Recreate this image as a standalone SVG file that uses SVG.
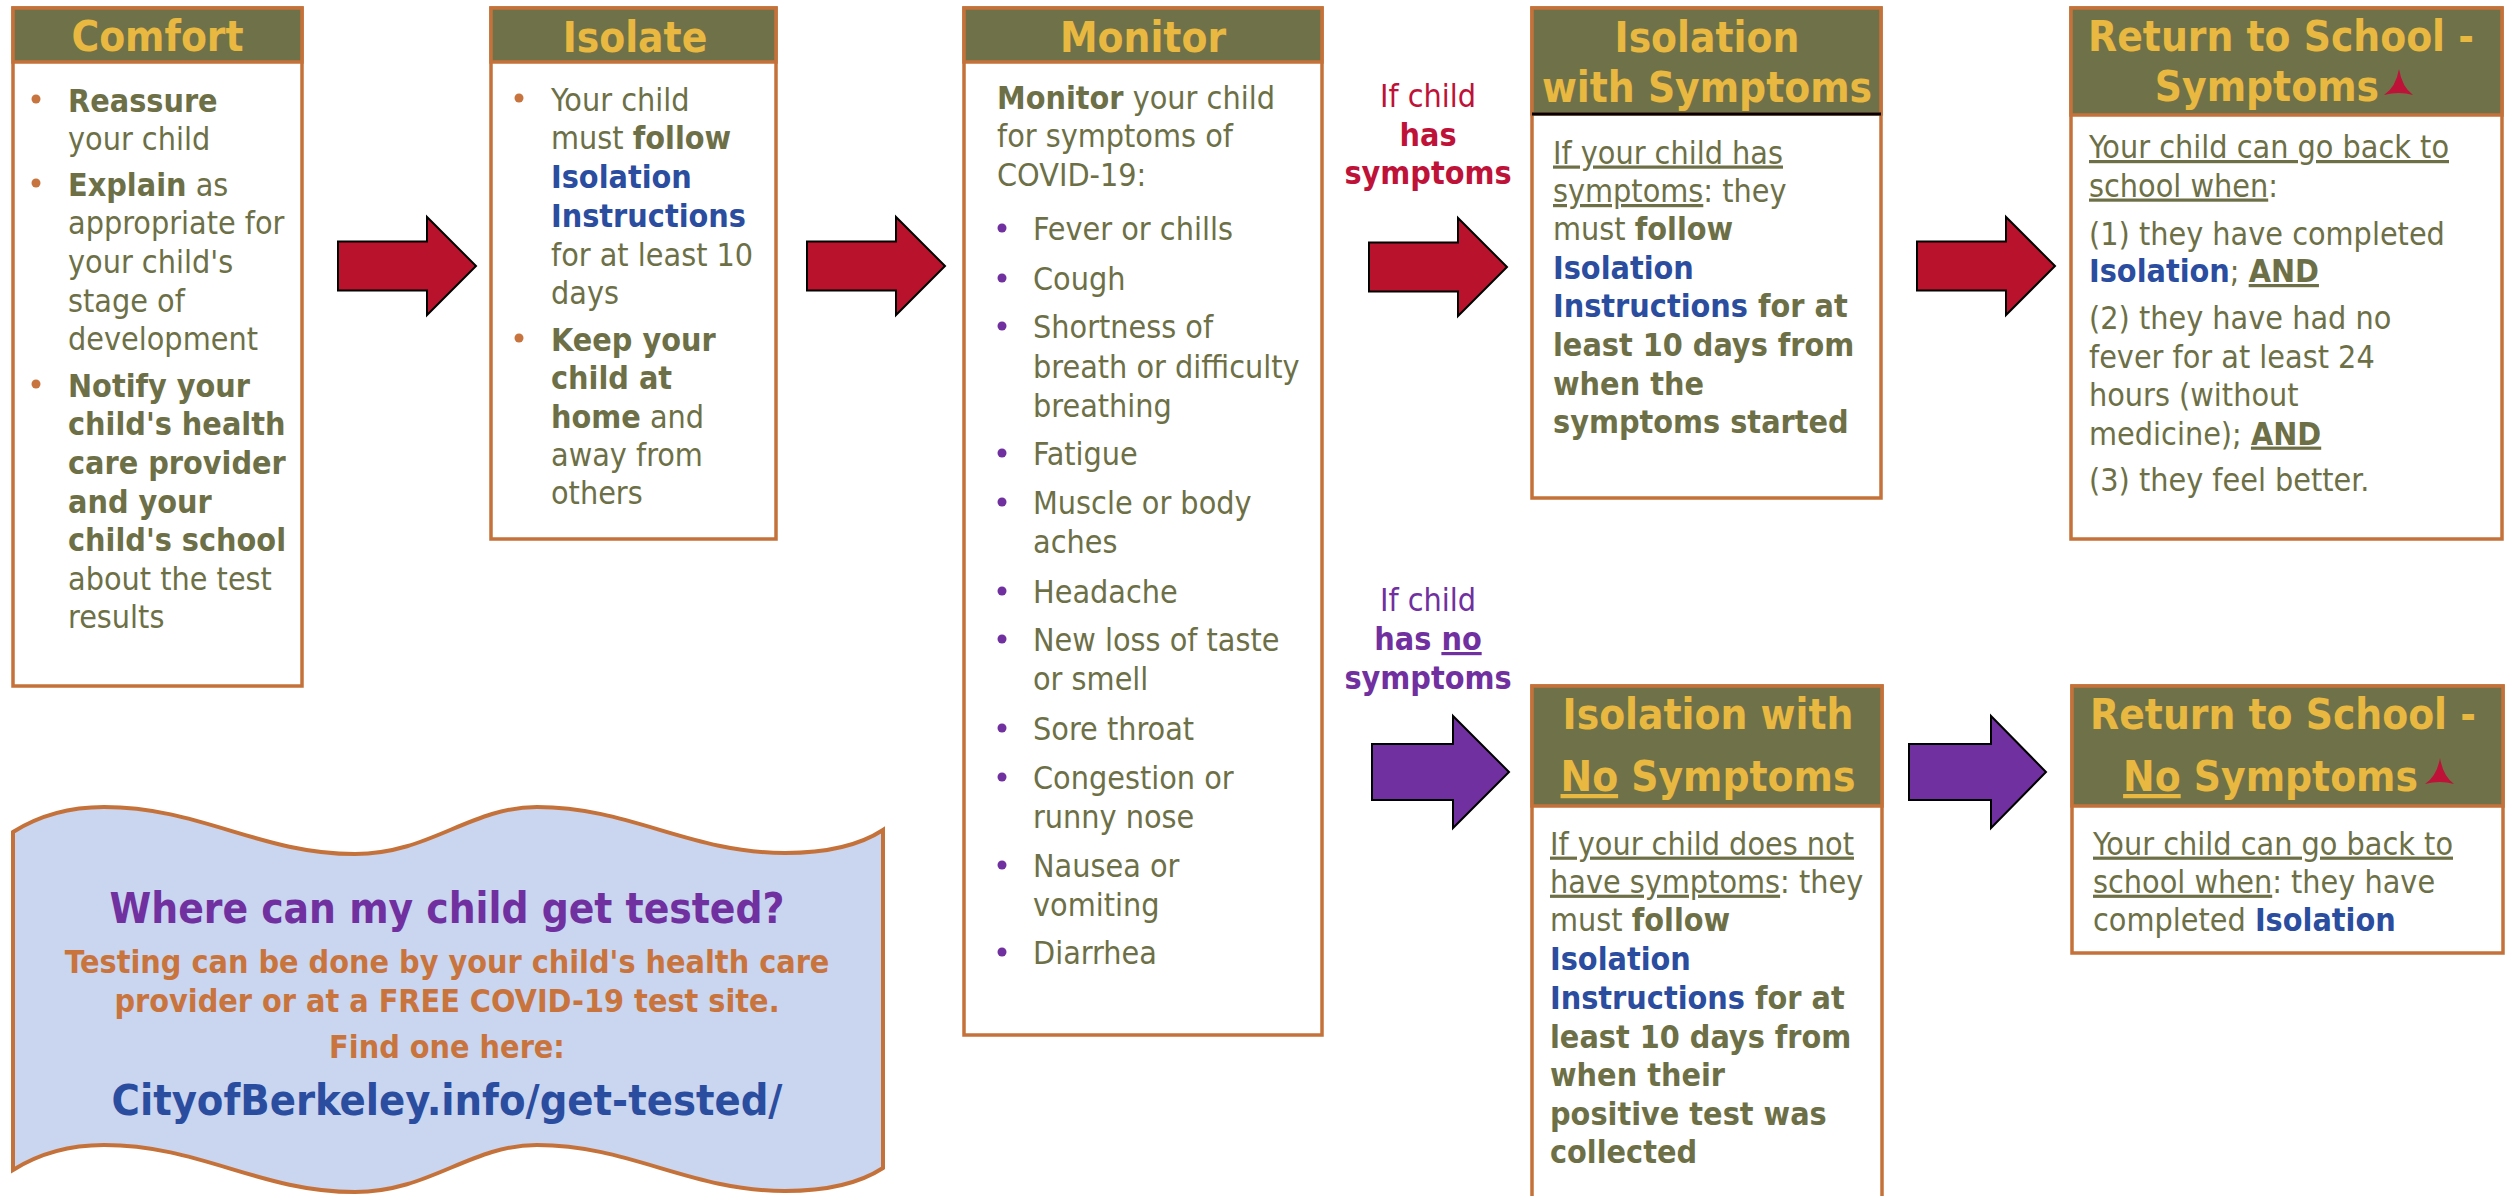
<svg xmlns="http://www.w3.org/2000/svg" width="2508" height="1196" viewBox="0 0 2508 1196">
<defs>
<style>
text{font-family:"DejaVu Sans Condensed","DejaVu Sans",sans-serif;font-stretch:condensed}
.hd{font-size:42px;font-weight:bold;fill:#E9B840;text-anchor:middle}
.t{font-size:32px;fill:#6D7046}
.c{text-anchor:middle}
.b{font-weight:bold}
.bl{font-weight:bold;fill:#2B4DA0}
.u{text-decoration:underline}
.box{fill:#fff;stroke:#C5723A;stroke-width:3.5}
.hdr{fill:#6F7249;stroke:#C5723A;stroke-width:3.5}
.dot{fill:#C8743E}
.pdot{fill:#7030A0}
.ar{fill:#B9122C;stroke:#000;stroke-width:2}
.ap{fill:#7030A0;stroke:#000;stroke-width:2}
.red{fill:#BE1238}
.pur{fill:#7030A0}
.wv{font-weight:bold;text-anchor:middle}
</style>
<path id="star" d="M0,-19 Q3,-1 14,7 Q0,3 -15,7 Q-3,-1 0,-19Z" fill="#BE1238"/>
</defs>
<rect width="2508" height="1196" fill="#fff"/>

<g id="comfort">
<rect class="box" x="13" y="8" width="289" height="678"/>
<rect class="hdr" x="13" y="8" width="289" height="54"/>
<text class="hd" x="157.5" y="51">Comfort</text>
<circle class="dot" cx="36" cy="99" r="4.5"/>
<circle class="dot" cx="36" cy="183" r="4.5"/>
<circle class="dot" cx="36" cy="384" r="4.5"/>
<text class="t" x="68" y="112"><tspan class="b">Reassure</tspan></text>
<text class="t" x="68" y="150">your child</text>
<text class="t" x="68" y="196"><tspan class="b">Explain</tspan> as</text>
<text class="t" x="68" y="234">appropriate for</text>
<text class="t" x="68" y="273">your child's</text>
<text class="t" x="68" y="312">stage of</text>
<text class="t" x="68" y="350">development</text>
<text class="t b" x="68" y="397">Notify your</text>
<text class="t b" x="68" y="435">child's health</text>
<text class="t b" x="68" y="474">care provider</text>
<text class="t b" x="68" y="513">and your</text>
<text class="t b" x="68" y="551">child's school</text>
<text class="t" x="68" y="590">about the test</text>
<text class="t" x="68" y="628">results</text>
</g>

<g id="isolate">
<rect class="box" x="491" y="8" width="285" height="531"/>
<rect class="hdr" x="491" y="8" width="285" height="54"/>
<text class="hd" x="635" y="52">Isolate</text>
<circle class="dot" cx="519" cy="98" r="4.5"/>
<circle class="dot" cx="519" cy="338" r="4.5"/>
<text class="t" x="551" y="111">Your child</text>
<text class="t" x="551" y="149">must <tspan class="b">follow</tspan></text>
<text class="t bl" x="551" y="188">Isolation</text>
<text class="t bl" x="551" y="227">Instructions</text>
<text class="t" x="551" y="266">for at least 10</text>
<text class="t" x="551" y="304">days</text>
<text class="t b" x="551" y="351">Keep your</text>
<text class="t b" x="551" y="389">child at</text>
<text class="t" x="551" y="428"><tspan class="b">home</tspan> and</text>
<text class="t" x="551" y="466">away from</text>
<text class="t" x="551" y="504">others</text>
</g>

<g id="monitor">
<rect class="box" x="964" y="8" width="358" height="1027"/>
<rect class="hdr" x="964" y="8" width="358" height="54"/>
<text class="hd" x="1143" y="52">Monitor</text>
<text class="t" x="997" y="108.5"><tspan class="b">Monitor</tspan> your child</text>
<text class="t" x="997" y="147">for symptoms of</text>
<text class="t" x="997" y="185.5">COVID-19:</text>
<circle class="pdot" cx="1002" cy="228" r="4.5"/>
<circle class="pdot" cx="1002" cy="278" r="4.5"/>
<circle class="pdot" cx="1002" cy="326" r="4.5"/>
<circle class="pdot" cx="1002" cy="453" r="4.5"/>
<circle class="pdot" cx="1002" cy="502" r="4.5"/>
<circle class="pdot" cx="1002" cy="591" r="4.5"/>
<circle class="pdot" cx="1002" cy="639" r="4.5"/>
<circle class="pdot" cx="1002" cy="728" r="4.5"/>
<circle class="pdot" cx="1002" cy="777" r="4.5"/>
<circle class="pdot" cx="1002" cy="865" r="4.5"/>
<circle class="pdot" cx="1002" cy="952" r="4.5"/>
<text class="t" x="1033" y="240">Fever or chills</text>
<text class="t" x="1033" y="290">Cough</text>
<text class="t" x="1033" y="338">Shortness of</text>
<text class="t" x="1033" y="378">breath or difficulty</text>
<text class="t" x="1033" y="417">breathing</text>
<text class="t" x="1033" y="465">Fatigue</text>
<text class="t" x="1033" y="514">Muscle or body</text>
<text class="t" x="1033" y="553">aches</text>
<text class="t" x="1033" y="603">Headache</text>
<text class="t" x="1033" y="651">New loss of taste</text>
<text class="t" x="1033" y="690">or smell</text>
<text class="t" x="1033" y="740">Sore throat</text>
<text class="t" x="1033" y="789">Congestion or</text>
<text class="t" x="1033" y="828">runny nose</text>
<text class="t" x="1033" y="877">Nausea or</text>
<text class="t" x="1033" y="916">vomiting</text>
<text class="t" x="1033" y="964">Diarrhea</text>
</g>

<g id="isolation-symptoms">
<rect class="box" x="1532" y="8" width="349" height="490"/>
<rect class="hdr" x="1532" y="8" width="349" height="106"/>
<line x1="1532" y1="114" x2="1881" y2="114" stroke="#000" stroke-width="3"/>
<text class="hd" x="1707" y="52">Isolation</text>
<text class="hd" x="1707" y="102">with Symptoms</text>
<text class="t" x="1553" y="163.5"><tspan class="u">If your child has</tspan></text>
<text class="t" x="1553" y="202"><tspan class="u">symptoms</tspan>: they</text>
<text class="t" x="1553" y="240">must <tspan class="b">follow</tspan></text>
<text class="t bl" x="1553" y="278.5">Isolation</text>
<text class="t b" x="1553" y="317"><tspan class="bl">Instructions</tspan> for at</text>
<text class="t b" x="1553" y="356">least 10 days from</text>
<text class="t b" x="1553" y="395">when the</text>
<text class="t b" x="1553" y="433">symptoms started</text>
</g>

<g id="return-symptoms">
<rect class="box" x="2071" y="8" width="431" height="531"/>
<rect class="hdr" x="2071" y="8" width="431" height="107"/>
<text class="hd" x="2281" y="51">Return to School -</text>
<text class="hd" x="2379" y="101" style="text-anchor:end">Symptoms</text>
<use href="#star" x="2399" y="88"/>
<text class="t" x="2089" y="158"><tspan class="u">Your child can go back to</tspan></text>
<text class="t" x="2089" y="196.5"><tspan class="u">school when</tspan>:</text>
<text class="t" x="2089" y="244.6">(1) they have completed</text>
<text class="t" x="2089" y="282"><tspan class="bl">Isolation</tspan>; <tspan class="b u">AND</tspan></text>
<text class="t" x="2089" y="328.6">(2) they have had no</text>
<text class="t" x="2089" y="368">fever for at least 24</text>
<text class="t" x="2089" y="406">hours (without</text>
<text class="t" x="2089" y="444.6">medicine); <tspan class="b u">AND</tspan></text>
<text class="t" x="2089" y="491">(3) they feel better.</text>
</g>

<g id="isolation-no-symptoms">
<rect class="box" x="1532" y="686" width="350" height="520"/>
<rect class="hdr" x="1532" y="686" width="350" height="120"/>
<text class="hd" x="1708" y="729">Isolation with</text>
<text class="hd" x="1708" y="791"><tspan class="u">No</tspan> Symptoms</text>
<text class="t" x="1550" y="854.6"><tspan class="u">If your child does not</tspan></text>
<text class="t" x="1550" y="892.7"><tspan class="u">have symptoms</tspan>: they</text>
<text class="t" x="1550" y="931">must <tspan class="b">follow</tspan></text>
<text class="t bl" x="1550" y="970">Isolation</text>
<text class="t b" x="1550" y="1008.6"><tspan class="bl">Instructions</tspan> for at</text>
<text class="t b" x="1550" y="1047.5">least 10 days from</text>
<text class="t b" x="1550" y="1086">when their</text>
<text class="t b" x="1550" y="1125">positive test was</text>
<text class="t b" x="1550" y="1163">collected</text>
</g>

<g id="return-no-symptoms">
<rect class="box" x="2072" y="686" width="431" height="267"/>
<rect class="hdr" x="2072" y="686" width="431" height="120"/>
<text class="hd" x="2283" y="729">Return to School -</text>
<text class="hd" x="2418" y="791" style="text-anchor:end"><tspan class="u">No</tspan> Symptoms</text>
<use href="#star" x="2440" y="777"/>
<text class="t" x="2093" y="854.6"><tspan class="u">Your child can go back to</tspan></text>
<text class="t" x="2093" y="892.7"><tspan class="u">school when</tspan>: they have</text>
<text class="t" x="2093" y="931">completed <tspan class="bl">Isolation</tspan></text>
</g>

<g id="testing-info">
<path d="M13,832 C40,815 70,807 104,807 C200,807 260,854 355,854 C430,854 470,807 537,807 C630,807 690,853 785,853 C830,853 860,845 883,830 L883,1168 C860,1183 830,1191 785,1191 C690,1191 630,1145 537,1145 C470,1145 430,1192 355,1192 C260,1192 200,1145 104,1145 C70,1145 40,1153 13,1170 Z" fill="#CAD5F0" stroke="#C5723A" stroke-width="4"/>
<text class="wv" x="447" y="923" font-size="42" fill="#7030A0">Where can my child get tested?</text>
<text class="wv" x="447" y="973" font-size="32" fill="#C8743C">Testing can be done by your child's health care</text>
<text class="wv" x="447" y="1011.7" font-size="32" fill="#C8743C">provider or at a FREE COVID-19 test site.</text>
<text class="wv" x="447" y="1058" font-size="32" fill="#C8743C">Find one here:</text>
<text class="wv" x="447" y="1115" font-size="43" fill="#2B4DA0">CityofBerkeley.info/get-tested/</text>
</g>

<g id="connectors">
<polygon class="ar" points="338,241.5 427,241.5 427,217 476,266 427,315 427,290.5 338,290.5"/>
<polygon class="ar" points="807,241.5 896,241.5 896,217 945,266 896,315 896,290.5 807,290.5"/>
<polygon class="ar" points="1369,242.5 1458,242.5 1458,218 1507,267 1458,316 1458,291.5 1369,291.5"/>
<polygon class="ar" points="1917,241.5 2006,241.5 2006,217 2055,266 2006,315 2006,290.5 1917,290.5"/>
<polygon class="ap" points="1372,744 1453,744 1453,716 1509,772 1453,828 1453,800 1372,800"/>
<polygon class="ap" points="1909,744 1991,744 1991,716 2046,772 1991,828 1991,800 1909,800"/>
<text class="t c red" x="1428" y="107">If child</text>
<text class="t c red b" x="1428" y="146">has</text>
<text class="t c red b" x="1428" y="184">symptoms</text>
<text class="t c pur" x="1428" y="611">If child</text>
<text class="t c pur b" x="1428" y="650">has <tspan class="u">no</tspan></text>
<text class="t c pur b" x="1428" y="689">symptoms</text>
</g>
</svg>
